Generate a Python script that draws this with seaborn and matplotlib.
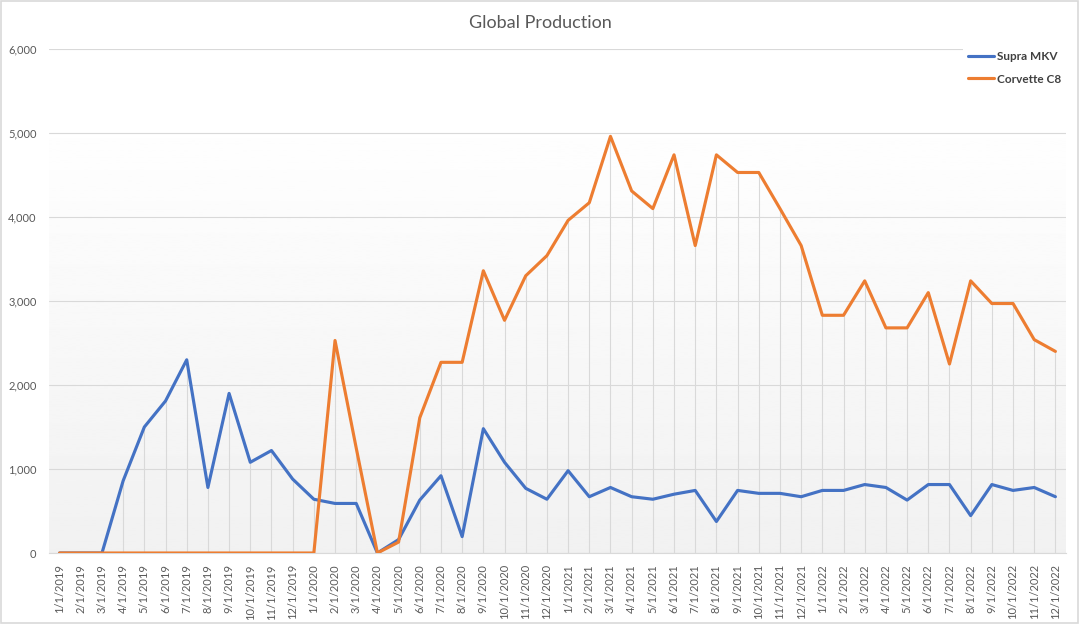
import numpy as np
import pandas as pd
import matplotlib.pyplot as plt
import seaborn as sns

# monthly categories 1/1/2019 .. 12/1/2022
months = pd.date_range("2019-01-01", periods=48, freq="MS")
month_labels = [f"{d.month}/1/{d.year}" for d in months]

supra = [0, 0, 0, 860, 1500, 1810, 2300, 780, 1900, 1080, 1220, 880,
         640, 590, 590, 0, 160, 630, 920, 195, 1480, 1080, 770, 640,
         980, 670, 780, 670, 640, 700, 745, 375, 745, 710, 710, 670,
         745, 745, 815, 780, 630, 815, 815, 445, 815, 745, 780, 670]
corvette = [0, 0, 0, 0, 0, 0, 0, 0, 0, 0, 0, 0,
            0, 2530, 1250, 0, 130, 1610, 2270, 2270, 3360, 2770, 3300, 3540,
            3960, 4170, 4960, 4310, 4100, 4740, 3660, 4740, 4530, 4530, 4100, 3660,
            2830, 2830, 3240, 2680, 2680, 3100, 2250, 3240, 2970, 2970, 2540, 2400]
models = ["Supra MKV", "Corvette C8"]
colors = ["#4472C4", "#ED7D31"]

idx = np.arange(len(month_labels))
df = pd.DataFrame({
    "idx": np.concatenate([idx, idx]),
    "units": supra + corvette,
    "model": [models[0]] * len(idx) + [models[1]] * len(idx),
})

sns.set_theme(style="white")
plt.rcParams['font.family'] = ['Lato', 'DejaVu Sans']
grey_txt = "#595959"
grid_c = "#d9d9d9"

fig = plt.figure(figsize=(10.8, 6.24), dpi=100)
ax = fig.add_axes([49/1080, 1-553/624, (1066-49)/1080, (553-49)/624])

# plot area gradient (light grey at bottom to white)
grad = np.linspace(0.945, 1.0, 256).reshape(-1, 1)
ax.imshow(grad, extent=[-0.5, 47.5, 0, 5310], origin="lower", aspect="auto",
          cmap="gray", vmin=0, vmax=1, zorder=0)

# drop lines
ax.vlines(idx, 0, np.maximum(supra, corvette), color=grid_c, lw=0.8, zorder=1)

sns.lineplot(data=df, x="idx", y="units", hue="model", palette=colors,
             lw=2.25, ax=ax, zorder=3)

ax.set_xlim(-0.5, 47.5)
ax.set_ylim(0, 6000)
ax.set_yticks(range(0, 6001, 1000))
ax.set_yticklabels([f"{v:,}" for v in range(0, 6001, 1000)])
ax.yaxis.grid(True, color=grid_c, lw=0.8)
ax.set_axisbelow(True)
ax.set_xticks(idx)
ax.set_xticklabels(month_labels, rotation=90)
ax.set_xticks(np.arange(-0.5, 48, 1), minor=True)
ax.tick_params(axis="x", which="major", length=0, pad=8, labelsize=8, labelcolor=grey_txt)
ax.tick_params(axis="x", which="minor", length=5, color=grid_c, width=0.8, direction="out")
ax.tick_params(axis="y", length=0, pad=9, labelsize=8, labelcolor=grey_txt)
ax.set_xlabel("")
ax.set_ylabel("")
for s in ["left", "top", "right"]:
    ax.spines[s].set_visible(False)
ax.spines["bottom"].set_color(grid_c)
ax.spines["bottom"].set_linewidth(0.8)

handles, labels = ax.get_legend_handles_labels()
leg = ax.legend(handles, labels, loc="upper left",
                bbox_to_anchor=(963/1080, 1-46/624), bbox_transform=fig.transFigure,
                frameon=True, facecolor="white", edgecolor="none", fancybox=False,
                framealpha=1, handlelength=2.2, handletextpad=0.3,
                labelspacing=1.0, borderpad=0.4, borderaxespad=0,
                prop={"size": 8.5, "weight": "bold"})
for t in leg.get_texts():
    t.set_color("#404040")
leg.set_zorder(5)

fig.text(0.5, 1-23/624, "Global Production", ha="center", va="center",
         fontsize=13, color=grey_txt)

fig.add_artist(plt.Rectangle((0.5/1080, 1.5/624), 1-2.5/1080, 1-2.5/624,
                             transform=fig.transFigure, fill=False,
                             ec=grid_c, lw=1.2))

fig.savefig("out.png", dpi=100)
